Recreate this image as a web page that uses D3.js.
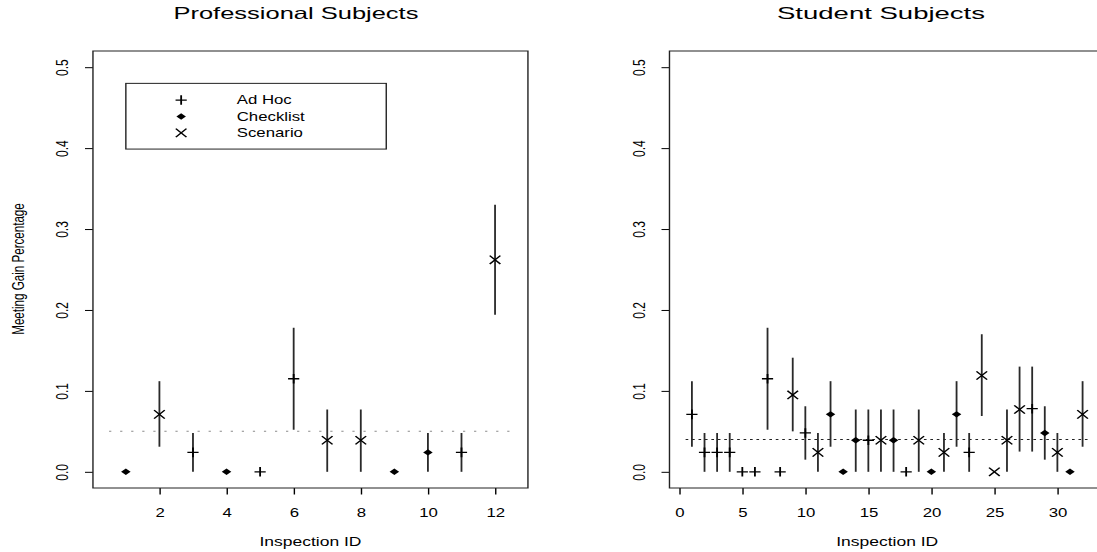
<!DOCTYPE html>
<html>
<head>
<meta charset="utf-8">
<script src="https://cdn.jsdelivr.net/npm/d3@7"></script>
<style>
    body { margin: 0; background: #fff; }
    svg { display: block; }
    text { font-family: "Liberation Sans", Arial, Helvetica, sans-serif; fill: #000; }
</style>
</head>
<body>
<svg id="chart"></svg>
<script>
// professional subjects
var proIds = [1, 2, 3, 4, 5, 6, 7, 8, 9, 10, 11, 12];
var proMethod = ['Checklist', 'Scenario', 'Ad Hoc', 'Checklist', 'Ad Hoc', 'Ad Hoc',
                 'Scenario', 'Scenario', 'Checklist', 'Checklist', 'Ad Hoc', 'Scenario'];
var proGain = [0, 0.071, 0.024, 0, 0, 0.115, 0.039, 0.039, 0, 0.024, 0.024, 0.262];
var proLow  = [0, 0.031, 0, 0, 0, 0.052, 0, 0, 0, 0, 0, 0.194];
var proHigh = [0, 0.112, 0.048, 0, 0, 0.178, 0.077, 0.077, 0, 0.048, 0.048, 0.330];
var proMean = 0.05;

// student subjects
var stuIds = [1, 2, 3, 4, 5, 6, 7, 8, 9, 10, 11, 12, 13, 14, 15, 16,
              17, 18, 19, 20, 21, 22, 23, 24, 25, 26, 27, 28, 29, 30, 31, 32];
var stuMethod = ['Ad Hoc', 'Ad Hoc', 'Ad Hoc', 'Ad Hoc', 'Ad Hoc', 'Ad Hoc', 'Ad Hoc', 'Ad Hoc',
                 'Scenario', 'Ad Hoc', 'Scenario', 'Checklist', 'Checklist', 'Checklist', 'Ad Hoc', 'Scenario',
                 'Checklist', 'Ad Hoc', 'Scenario', 'Checklist', 'Scenario', 'Checklist', 'Ad Hoc', 'Scenario',
                 'Scenario', 'Scenario', 'Scenario', 'Ad Hoc', 'Checklist', 'Scenario', 'Checklist', 'Scenario'];
var stuGain = [0.071, 0.024, 0.024, 0.024, 0, 0, 0.115, 0, 0.095, 0.048, 0.024, 0.071, 0, 0.039, 0.039, 0.039,
               0.039, 0, 0.039, 0, 0.024, 0.071, 0.024, 0.119, 0, 0.039, 0.077, 0.078, 0.048, 0.024, 0, 0.071];
var stuLow  = [0.031, 0, 0, 0, 0, 0, 0.052, 0, 0.050, 0.015, 0, 0.031, 0, 0, 0, 0,
               0, 0, 0, 0, 0, 0.031, 0, 0.069, 0, 0, 0.025, 0.025, 0.015, 0, 0, 0.031];
var stuHigh = [0.112, 0.048, 0.048, 0.048, 0, 0, 0.178, 0, 0.141, 0.081, 0.048, 0.112, 0, 0.077, 0.077, 0.077,
               0.077, 0, 0.077, 0, 0.048, 0.112, 0.048, 0.170, 0, 0.077, 0.130, 0.130, 0.081, 0.048, 0, 0.112];
var stuMean = 0.04;

// axes
var yTicks = [0, 0.1, 0.2, 0.3, 0.4, 0.5];
var proXTicks = [2, 4, 6, 8, 10, 12];
var stuXTicks = [0, 5, 10, 15, 20, 25, 30];
var legendLabels = ['Ad Hoc', 'Checklist', 'Scenario'];

// the picture is stretched sideways, so draw in narrower units
var W = 1097, H = 552, stretch = 1.4, vw = W / stretch;
var svg = d3.select('#chart')
    .attr('width', W)
    .attr('height', H)
    .attr('viewBox', `0 0 ${vw} ${H}`)
    .attr('preserveAspectRatio', 'none');

// marker shapes (R pch 3, 18, 4)
function marker(g, method, cx, cy) {
    if (method == 'Ad Hoc') {
        g.append('path')
            .attr('d', `M${cx - 4},${cy}H${cx + 4}M${cx},${cy - 4.8}V${cy + 4.8}`)
            .attr('stroke', '#000').attr('stroke-width', 1.3).attr('fill', 'none');
    } else if (method == 'Checklist') {
        g.append('path')
            .attr('d', `M${cx - 3.4},${cy}L${cx},${cy - 3.2}L${cx + 3.4},${cy}L${cx},${cy + 3.2}Z`)
            .attr('fill', '#000');
    } else {
        g.append('path')
            .attr('d', `M${cx - 3.8},${cy - 4.2}L${cx + 3.8},${cy + 4.2}M${cx - 3.8},${cy + 4.2}L${cx + 3.8},${cy - 4.2}`)
            .attr('stroke', '#000').attr('stroke-width', 1.2).attr('fill', 'none');
    }
}

function drawPanel(opt) {
    var g = svg.append('g');
    var xExt = (opt.xlim[1] - opt.xlim[0]) * 0.04,
        yExt = (0.5 - 0) * 0.04;
    var x = d3.scaleLinear()
        .domain([opt.xlim[0] - xExt, opt.xlim[1] + xExt])
        .range([opt.left, opt.right]);
    var y = d3.scaleLinear()
        .domain([0 - yExt, 0.5 + yExt])
        .range([488, 51]);

    // x axis
    g.append('g')
        .attr('transform', `translate(0,${y.range()[0]})`)
        .call(d3.axisBottom(x).tickValues(opt.xTicks).tickSize(6.5))
        .call(function (a) {
            a.select('.domain').remove();
            a.selectAll('line').attr('stroke', '#000');
            a.selectAll('text')
                .attr('y', 29.3).attr('dy', 0)
                .attr('font-size', 12)
                .attr('font-family', '"Liberation Sans", Arial, sans-serif');
        });

    // y axis
    g.append('g')
        .attr('transform', `translate(${opt.left},0)`)
        .call(d3.axisLeft(y).tickValues(yTicks).tickFormat(d3.format('.1f')).tickSize(5.7))
        .call(function (a) {
            a.select('.domain').remove();
            a.selectAll('line').attr('stroke', '#000');
            a.selectAll('text')
                .attr('transform', 'rotate(-90)')
                .attr('x', 0).attr('y', -22).attr('dy', '0.35em')
                .attr('text-anchor', 'middle')
                .attr('font-size', 12)
                .attr('font-family', '"Liberation Sans", Arial, sans-serif');
        });

    // plot box
    g.append('rect')
        .attr('x', opt.left).attr('y', y.range()[1])
        .attr('width', opt.right - opt.left)
        .attr('height', y.range()[0] - y.range()[1])
        .attr('fill', 'none').attr('stroke', '#222').attr('stroke-width', 1);

    // mean line
    g.append('line')
        .attr('x1', x(opt.xlim[0])).attr('x2', x(opt.xlim[1]))
        .attr('y1', y(opt.mean)).attr('y2', y(opt.mean))
        .attr('stroke', opt.meanColor).attr('stroke-width', 1)
        .attr('stroke-dasharray', opt.meanDash);

    // error bars
    opt.ids.forEach(function (id, i) {
        if (opt.high[i] > opt.low[i]) {
            g.append('line')
                .attr('x1', x(id)).attr('x2', x(id))
                .attr('y1', y(opt.low[i])).attr('y2', y(opt.high[i]))
                .attr('stroke', '#2a2a2a').attr('stroke-width', 1.3);
        }
    });

    // points
    opt.ids.forEach(function (id, i) {
        marker(g, opt.method[i], x(id), y(opt.gain[i]));
    });

    // titles
    g.append('text')
        .attr('x', opt.titleX).attr('y', 19)
        .attr('text-anchor', 'middle')
        .attr('font-size', 16.5)
        .attr('textLength', opt.titleLen)
        .attr('lengthAdjust', 'spacingAndGlyphs')
        .text(opt.title);
    g.append('text')
        .attr('x', (opt.left + opt.right) / 2).attr('y', 546.5)
        .attr('text-anchor', 'middle')
        .attr('font-size', 12.5)
        .text('Inspection ID');

    return {g: g, x: x, y: y};
}

var pro = drawPanel({
    ids: proIds, method: proMethod, gain: proGain, low: proLow, high: proHigh,
    mean: proMean, meanColor: '#8a8a8a', meanDash: '1.6,6.3',
    xlim: [0.5, 12.5], xTicks: proXTicks, left: 66.4, right: 377.1,
    title: 'Professional Subjects', titleX: 211.4, titleLen: 175
});

drawPanel({
    ids: stuIds, method: stuMethod, gain: stuGain, low: stuLow, high: stuHigh,
    mean: stuMean, meanColor: '#222', meanDash: '1.9,2.7',
    xlim: [0.5, 32.5], xTicks: stuXTicks, left: 478.2, right: 789.3,
    title: 'Student Subjects', titleX: 629.3, titleLen: 148.6
});

// y label (left panel only)
svg.append('text')
    .attr('transform', 'translate(17.4,269) rotate(-90)')
    .attr('text-anchor', 'middle')
    .attr('font-size', 11.6)
    .text('Meeting Gain Percentage');

// legend, anchored at (1, 0.48) of the left panel
var lx = pro.x(1), ly = pro.y(0.48);
var legend = pro.g.append('g').attr('transform', `translate(${lx},${ly})`);
legend.append('rect')
    .attr('width', 186).attr('height', 65.7)
    .attr('fill', '#fff').attr('stroke', '#222').attr('stroke-width', 1);
legendLabels.forEach(function (label, i) {
    var ry = 16.7 + i * 16.4;
    marker(legend, label, 39.5, ry);
    legend.append('text')
        .attr('x', 79.2).attr('y', ry).attr('dy', '0.35em')
        .attr('font-size', 12)
        .text(label);
});
</script>
</body>
</html>
